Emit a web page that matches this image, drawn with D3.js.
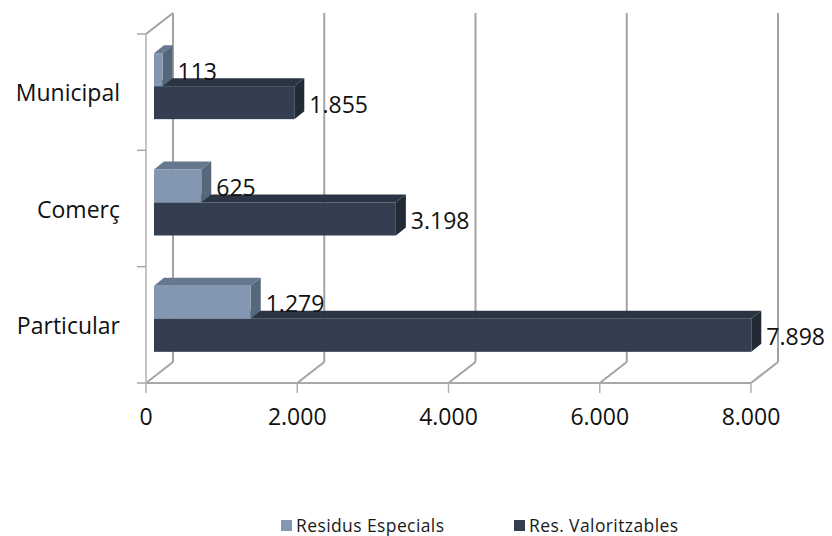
<!DOCTYPE html>
<html><head><meta charset="utf-8">
<script src="https://cdn.jsdelivr.net/npm/d3@7"></script>
<style>
html,body{margin:0;padding:0;background:#fff;}
svg{display:block;font-family:"Open Sans",sans-serif;}
</style>
</head><body>
<svg id="c" width="832" height="536"></svg>
<script>
const categories = ["Municipal", "Comerç", "Particular"];
const seriesNames = ["Residus Especials", "Res. Valoritzables"];
const residusEspecials = [113, 625, 1279];
const resValoritzables = [1855, 3198, 7898];
const tickValues = [0, 2000, 4000, 6000, 8000];
const tickLabels = ["0", "2.000", "4.000", "6.000", "8.000"];
const valueLabels = [["113", "625", "1.279"], ["1.855", "3.198", "7.898"]];

const colors = {
  front: ["#8497b0", "#333f50"],
  top: ["#66778e", "#2a3443"],
  side: ["#56667b", "#222a35"]
};

const svg = d3.select("#c");
const x = d3.scaleLinear().domain([0, 8000]).range([146, 751]);
const y = d3.scaleBand().domain(categories).range([34, 383]);
const wall = {dx: 27, dy: -21};
const barShift = {dx: 8, dy: -6};
const barDepth = {dx: 10, dy: -8};
const barH = 33;

const grid = svg.append("g").attr("fill", "none");
tickValues.forEach(v => {
  grid.append("line")
    .attr("x1", x(v) + wall.dx).attr("x2", x(v) + wall.dx)
    .attr("y1", 13).attr("y2", 383 + wall.dy)
    .attr("stroke", "#a3a3a3").attr("stroke-width", 2);
  grid.append("line")
    .attr("x1", x(v)).attr("y1", 383)
    .attr("x2", x(v) + wall.dx).attr("y2", 383 + wall.dy)
    .attr("stroke", "#a3a3a3").attr("stroke-width", 2);
  grid.append("line")
    .attr("x1", x(v)).attr("x2", x(v))
    .attr("y1", 383).attr("y2", 393)
    .attr("stroke", "#b0b0b0").attr("stroke-width", 1.5);
});
grid.append("line").attr("x1", 146).attr("x2", 146).attr("y1", 34).attr("y2", 383)
  .attr("stroke", "#c4c4c4").attr("stroke-width", 2);
grid.append("line").attr("x1", 146).attr("y1", 34).attr("x2", 146 + wall.dx).attr("y2", 34 + wall.dy)
  .attr("stroke", "#a3a3a3").attr("stroke-width", 2);
grid.append("line").attr("x1", 146).attr("x2", 751).attr("y1", 383).attr("y2", 383)
  .attr("stroke", "#a8a8a8").attr("stroke-width", 2);
const catTicks = categories.map(c => y(c)).concat([y.range()[1]]);
catTicks.forEach(t => {
  grid.append("line").attr("x1", 137).attr("x2", 146).attr("y1", t).attr("y2", t)
    .attr("stroke", "#a8a8a8").attr("stroke-width", 1.5);
});

svg.append("g").selectAll("text").data(tickValues).join("text")
  .attr("x", d => x(d)).attr("y", 425)
  .attr("text-anchor", "middle").attr("font-size", 23).attr("fill", "#111")
  .text((d, i) => tickLabels[i]);

svg.append("g").selectAll("text").data(categories).join("text")
  .attr("x", 120).attr("y", d => y(d) + y.bandwidth() / 2 + 9)
  .attr("text-anchor", "end").attr("font-size", 23).attr("fill", "#111")
  .text(d => d);

const seriesData = [residusEspecials, resValoritzables];
const barsG = svg.append("g");
const labelsG = svg.append("g");
[1, 0].forEach(s => {
  categories.forEach((c, i) => {
    const v = seriesData[s][i];
    const center = y(c) + y.bandwidth() / 2 + barShift.dy;
    const y0 = center - barH + s * barH;
    const y1 = y0 + barH;
    const x0 = x(0) + barShift.dx;
    const x1 = x(v) + barShift.dx;
    const g = barsG.append("g");
    g.append("polygon")
      .attr("points", [[x0, y0], [x0 + barDepth.dx, y0 + barDepth.dy], [x1 + barDepth.dx, y0 + barDepth.dy], [x1, y0]].join(" "))
      .attr("fill", colors.top[s]);
    g.append("polygon")
      .attr("points", [[x1, y0], [x1 + barDepth.dx, y0 + barDepth.dy], [x1 + barDepth.dx, y1 + barDepth.dy], [x1, y1]].join(" "))
      .attr("fill", colors.side[s]);
    g.append("rect")
      .attr("x", x0).attr("y", y0).attr("width", x1 - x0).attr("height", barH)
      .attr("fill", colors.front[s]);
  });
});
[0, 1].forEach(s => {
  categories.forEach((c, i) => {
    const v = seriesData[s][i];
    const center = y(c) + y.bandwidth() / 2 + barShift.dy;
    const y0 = center - barH + s * barH;
    labelsG.append("text")
      .attr("x", x(v) + barShift.dx + barDepth.dx + 5)
      .attr("y", y0 + barH / 2 + 10)
      .attr("font-size", 23).attr("fill", "#111")
      .text(valueLabels[s][i]);
  });
});

const legend = svg.append("g");
const legendX = [281, 514];
seriesNames.forEach((n, s) => {
  legend.append("rect").attr("x", legendX[s]).attr("y", 520).attr("width", 11).attr("height", 11)
    .attr("fill", colors.front[s]);
  legend.append("text").attr("x", legendX[s] + 15).attr("y", 532)
    .attr("font-size", 17.5).attr("fill", "#1a1a1a").attr("letter-spacing", 0.4)
    .text(n);
});
</script>
</body></html>
